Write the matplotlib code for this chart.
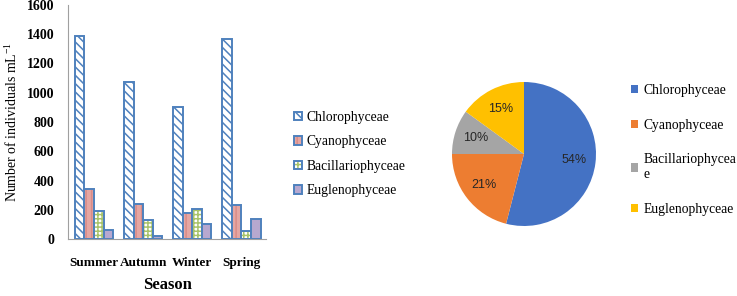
import matplotlib
matplotlib.use("Agg")
import matplotlib.pyplot as plt
import numpy as np
from matplotlib.legend_handler import HandlerTuple

seasons = ["Summer", "Autumn", "Winter", "Spring"]
groups = ["Chlorophyceae", "Cyanophyceae", "Bacillariophyceae", "Euglenophyceae"]
chloro = [1385, 1075, 905, 1370]
cyano = [345, 240, 178, 230]
bacill = [192, 128, 203, 52]
eugleno = [62, 22, 100, 138]
pie_labels = ["Chlorophyceae", "Cyanophyceae", "Bacillariophycea\ne", "Euglenophyceae"]
pie_values = [54, 21, 10, 15]

serif = "Liberation Serif"
plt.rcParams["hatch.linewidth"] = 1.1
plt.rcParams["mathtext.fontset"] = "custom"
plt.rcParams["mathtext.rm"] = serif
plt.rcParams["mathtext.it"] = serif + ":italic"
plt.rcParams["mathtext.bf"] = serif + ":bold"

fig = plt.figure(figsize=(7.37, 2.96), dpi=100)

# ---- bar chart ----
ax = fig.add_axes([68/737, 1-239/296, (266-68)/737, (239-5)/296])
series = [chloro, cyano, bacill, eugleno]
faces = ["white", "#E6A6A2", "white", "#B7A8CF"]
hatches = ["\\\\\\\\", "|||", "++++", ""]
hcols = ["#4F81BD", "#D98C88", "#A9C46A", "#B7A8CF"]
edge = "#4F81BD"
w = 0.195
x = np.arange(len(seasons))
handles = []
for i, s in enumerate(series):
    pos = x + (i - 1.5) * w
    b1 = ax.bar(pos, s, w, color=faces[i], edgecolor=hcols[i], hatch=hatches[i], linewidth=0)
    b2 = ax.bar(pos, s, w, fill=False, edgecolor=edge, linewidth=1.4)
    handles.append((b1, b2))

ax.set_xlim(-0.53, 3.5)
ax.set_ylim(0, 1600)
ax.set_yticks(range(0, 1601, 200))
ax.set_xticks(x)
ax.set_xticklabels(seasons, fontfamily=serif, fontweight="bold", fontsize=9.5)
for t in ax.get_yticklabels():
    t.set_fontfamily(serif)
    t.set_fontweight("bold")
    t.set_fontsize(10)
ax.tick_params(axis="both", length=0)
ax.tick_params(axis="x", pad=13)
ax.tick_params(axis="y", pad=10)
for sp in ["top", "right"]:
    ax.spines[sp].set_visible(False)
ax.spines["left"].set_color("#A0A0A0")
ax.spines["bottom"].set_color("#A0A0A0")
ax.set_ylabel("Number of individuals mL$^{-1}$", fontfamily=serif, fontsize=10, labelpad=5)
ax.set_xlabel("Season", fontfamily=serif, fontweight="bold", fontsize=12, labelpad=6)

fig.legend(handles, groups, handler_map={tuple: HandlerTuple(ndivide=1, pad=0)},
           loc="center left", bbox_to_anchor=(294/737, 1-154/296), frameon=False,
           prop={"family": serif, "size": 9.8}, handlelength=0.6, handleheight=0.6,
           handletextpad=0.3, labelspacing=0.85, borderpad=0, borderaxespad=0)

# ---- pie chart ----
pax = fig.add_axes([452/737, 1-226/296, 144/737, 144/296])
colors = ["#4472C4", "#ED7D31", "#A5A5A5", "#FFC000"]
wedges, texts, autotexts = pax.pie(pie_values, colors=colors, startangle=90, counterclock=False,
                                   autopct="%d%%", pctdistance=0.7,
                                   textprops={"fontsize": 9, "color": "#262626",
                                              "family": "Liberation Sans"})
pax.set_xlim(-1, 1)
pax.set_ylim(-1, 1)
pax.set_aspect("equal")

fig.legend(wedges, pie_labels, loc="center left", bbox_to_anchor=(631/737, 1-150/296),
           frameon=False, prop={"family": serif, "size": 9.8}, handlelength=0.55,
           handleheight=0.55, handletextpad=0.35, labelspacing=1.6, borderpad=0,
           borderaxespad=0)

fig.savefig("out.png", dpi=100)
